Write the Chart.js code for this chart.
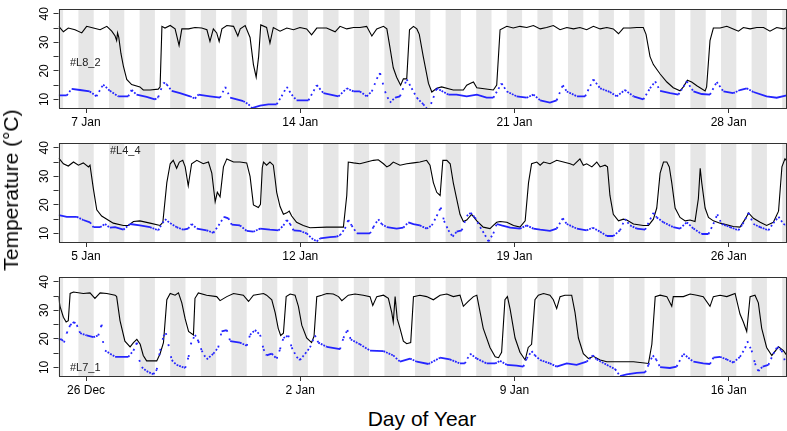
<!DOCTYPE html>
<html lang="en">
<head>
<meta charset="UTF-8" />
<title>Temperature by day of year</title>
<script src="https://cdn.jsdelivr.net/npm/chart.js"></script>
<style>
  body { margin: 0; background: #fff; font-family: "Liberation Sans", Arial, sans-serif; }
  #wrap { position: relative; width: 787px; height: 431px; overflow: hidden; }
  .panel { position: absolute; left: 0; width: 787px; height: 134px; }
  .tag { position: absolute; font-size: 11px; color: #222; white-space: nowrap; }
  #ytitle { position: absolute; left: 11px; top: 190px; transform: translate(-50%, -50%) rotate(-90deg); font-size: 21px; white-space: nowrap; }
  #xtitle { position: absolute; left: 422px; top: 419px; transform: translate(-50%, -50%); font-size: 21px; white-space: nowrap; }
</style>
</head>
<body>
<div id="wrap">
  <canvas id="p1" class="panel" width="787" height="134" style="top:0"></canvas>
  <canvas id="p2" class="panel" width="787" height="134" style="top:134px"></canvas>
  <canvas id="p3" class="panel" width="787" height="134" style="top:268px"></canvas>
  <div class="tag" style="left:70px; top:56px">#L8_2</div>
  <div class="tag" style="left:110px; top:144px">#L4_4</div>
  <div class="tag" style="left:70px; top:361px">#L7_1</div>
  <div id="ytitle">Temperature (°C)</div>
  <div id="xtitle">Day of Year</div>
</div>

<script>
// days are counted from 31 Dec = 0, so 26 Dec = -5 and 7 Jan = 7
const yTicks = [10, 15, 20, 25, 30, 35, 40];

const l82Days = [7, 14, 21, 28];
const l82Labels = ['7 Jan', '14 Jan', '21 Jan', '28 Jan'];
const l44Days = [5, 12, 19, 26];
const l44Labels = ['5 Jan', '12 Jan', '19 Jan', '26 Jan'];
const l71Days = [-5, 2, 9, 16];
const l71Labels = ['26 Dec', '2 Jan', '9 Jan', '16 Jan'];

// [day, temperature] pairs
const l82Nest = [[6.11,35.6],[6.26,33.7],[6.42,35.0],[6.64,34.4],[6.86,33.3],[7.02,35.6],[7.24,35.0],[7.46,34.4],[7.68,35.6],[7.84,33.9],[7.95,32.2],[8.00,30.6],[8.03,33.3],[8.07,31.7],[8.14,26.1],[8.22,21.7],[8.33,17.0],[8.49,15.2],[8.76,14.4],[8.87,13.3],[9.09,13.3],[9.36,13.6],[9.42,14.4],[9.48,35.6],[9.58,35.0],[9.75,35.9],[9.91,34.7],[10.04,28.9],[10.13,34.7],[10.35,34.7],[10.56,35.2],[10.78,35.0],[10.95,34.4],[11.05,30.3],[11.16,34.7],[11.27,33.3],[11.35,30.3],[11.44,34.7],[11.60,35.9],[11.82,35.6],[11.96,32.2],[12.04,34.7],[12.20,35.9],[12.36,31.7],[12.47,22.2],[12.56,17.8],[12.64,25.0],[12.71,36.1],[12.90,35.2],[13.01,29.7],[13.12,35.2],[13.34,33.9],[13.56,35.0],[13.78,34.4],[13.99,35.2],[14.21,34.7],[14.37,32.6],[14.54,35.0],[14.86,35.0],[15.14,33.7],[15.30,35.6],[15.52,34.7],[15.74,35.2],[15.95,35.2],[16.17,35.6],[16.34,32.2],[16.50,34.7],[16.72,35.6],[16.83,34.7],[16.93,28.3],[17.04,21.1],[17.15,17.8],[17.28,15.0],[17.37,17.2],[17.48,17.2],[17.57,34.4],[17.70,35.6],[17.81,34.7],[17.89,32.8],[18.02,25.0],[18.19,15.6],[18.30,12.6],[18.46,13.9],[18.62,14.4],[19.00,13.3],[19.33,13.3],[19.44,15.0],[19.55,15.6],[19.66,16.1],[19.77,14.1],[20.31,13.3],[20.42,15.0],[20.53,34.4],[20.75,35.6],[20.96,35.0],[21.18,35.6],[21.40,35.2],[21.62,35.9],[21.84,34.7],[22.05,35.2],[22.27,35.9],[22.49,34.4],[22.71,35.2],[22.93,34.7],[23.14,35.2],[23.36,34.4],[23.58,35.6],[23.80,34.7],[24.02,35.2],[24.23,34.7],[24.40,33.0],[24.56,35.0],[24.78,35.0],[25.00,35.2],[25.21,35.2],[25.30,32.8],[25.43,25.0],[25.54,22.2],[25.76,18.9],[25.98,16.1],[26.19,14.1],[26.41,13.0],[26.52,14.4],[26.65,16.7],[26.79,16.1],[26.96,14.8],[27.23,13.0],[27.28,14.4],[27.39,30.6],[27.50,35.0],[27.72,35.0],[27.94,35.6],[28.15,34.7],[28.32,33.9],[28.48,35.2],[28.70,34.7],[28.92,35.2],[29.14,35.2],[29.35,33.9],[29.57,35.2],[29.79,34.7],[29.90,35.2]];
const l82Air = [[6.11,11.4],[6.37,11.4],[6.53,13.7],[6.80,13.3],[7.12,12.8],[7.34,11.1],[7.56,15.2],[7.78,13.0],[8.05,11.1],[8.38,11.1],[8.49,13.3],[8.65,11.7],[8.98,10.9],[9.25,10.0],[9.36,10.8],[9.53,15.9],[9.64,15.2],[9.80,13.0],[10.07,12.2],[10.40,11.1],[10.56,10.3],[10.67,11.7],[11.05,11.1],[11.38,10.6],[11.55,14.4],[11.71,10.6],[12.14,9.4],[12.31,8.3],[12.42,7.0],[12.69,7.8],[12.96,8.3],[13.23,8.3],[13.39,11.1],[13.56,14.4],[13.72,11.7],[13.88,9.7],[14.27,9.7],[14.54,15.0],[14.76,12.2],[15.25,11.1],[15.52,13.9],[15.74,12.8],[15.95,12.8],[16.17,11.1],[16.34,12.8],[16.50,17.2],[16.61,19.2],[16.77,12.8],[16.93,8.9],[17.10,10.6],[17.26,11.1],[17.48,17.0],[17.64,13.9],[17.81,10.6],[18.02,8.3],[18.19,6.1],[18.35,10.6],[18.46,13.9],[18.62,13.0],[18.84,11.7],[19.11,11.7],[19.44,11.1],[19.77,11.7],[20.09,10.6],[20.31,10.6],[20.58,15.6],[20.75,12.8],[21.07,11.1],[21.40,10.6],[21.62,11.7],[21.84,9.7],[22.16,8.9],[22.38,9.7],[22.58,15.0],[22.71,12.8],[23.04,11.1],[23.31,11.1],[23.58,17.0],[23.80,13.9],[24.12,12.6],[24.34,11.1],[24.61,13.3],[24.89,11.1],[25.21,10.0],[25.43,13.9],[25.60,16.3],[25.76,13.0],[26.09,12.2],[26.36,11.7],[26.63,16.3],[26.85,12.8],[27.12,11.9],[27.39,11.7],[27.61,16.1],[27.83,12.8],[28.15,12.2],[28.37,13.3],[28.59,13.9],[28.81,12.6],[29.24,11.1],[29.57,10.6],[29.90,11.4]];

const l44Nest = [[4.11,36.4],[4.26,34.4],[4.42,33.6],[4.59,35.0],[4.75,33.9],[4.91,34.7],[5.08,33.3],[5.13,33.9],[5.24,25.6],[5.35,18.3],[5.51,16.1],[5.68,15.0],[5.89,13.6],[6.22,12.8],[6.38,12.8],[6.55,14.2],[6.76,14.4],[7.09,13.6],[7.42,12.8],[7.51,13.9],[7.64,27.8],[7.75,34.4],[7.85,35.6],[7.96,32.8],[8.05,35.0],[8.16,35.6],[8.24,33.3],[8.34,26.7],[8.45,34.4],[8.62,35.6],[8.83,34.4],[9.00,35.0],[9.11,31.1],[9.22,21.1],[9.29,24.4],[9.38,22.8],[9.49,33.3],[9.60,36.1],[9.82,35.0],[10.03,35.0],[10.25,34.7],[10.36,30.0],[10.47,20.0],[10.63,19.1],[10.70,20.2],[10.76,33.0],[10.80,35.0],[10.90,33.9],[11.01,35.0],[11.12,33.9],[11.18,28.9],[11.23,24.4],[11.34,19.4],[11.45,16.7],[11.56,17.2],[11.64,17.8],[11.72,16.1],[11.88,13.9],[12.10,12.8],[12.32,12.0],[12.86,12.2],[13.41,12.2],[13.52,23.3],[13.57,35.0],[13.74,34.7],[13.95,34.4],[14.17,35.0],[14.39,35.6],[14.55,35.8],[14.72,34.4],[14.83,33.3],[14.93,33.9],[15.04,35.0],[15.26,33.9],[15.48,34.4],[15.70,34.7],[15.91,35.0],[16.13,35.6],[16.24,33.9],[16.35,27.8],[16.46,24.4],[16.57,23.3],[16.66,35.6],[16.79,35.6],[16.90,34.4],[17.00,27.8],[17.11,22.2],[17.22,16.7],[17.33,14.2],[17.44,14.7],[17.60,16.7],[17.77,14.4],[17.98,12.2],[18.20,11.7],[18.31,12.8],[18.42,13.9],[18.53,14.2],[18.75,13.9],[18.97,12.8],[19.18,12.2],[19.35,14.4],[19.46,27.8],[19.56,34.4],[19.73,35.0],[19.84,33.9],[19.95,35.0],[20.16,34.4],[20.38,35.6],[20.60,35.0],[20.82,34.4],[20.93,33.9],[21.14,36.1],[21.25,33.9],[21.36,34.4],[21.53,33.3],[21.69,35.0],[21.80,33.3],[21.96,33.9],[22.04,33.3],[22.12,23.3],[22.23,16.7],[22.40,14.4],[22.56,15.0],[22.67,14.7],[22.89,13.3],[23.21,12.8],[23.38,12.8],[23.54,15.0],[23.65,18.9],[23.76,31.1],[23.87,35.0],[23.98,35.0],[24.06,33.3],[24.14,27.8],[24.25,18.9],[24.41,15.6],[24.58,14.4],[24.74,14.7],[24.90,14.2],[25.01,22.2],[25.07,32.8],[25.12,27.8],[25.23,18.9],[25.34,15.6],[25.50,14.4],[25.72,13.6],[25.94,13.0],[26.15,12.4],[26.37,12.2],[26.54,15.0],[26.65,17.2],[26.81,15.3],[27.03,13.9],[27.24,12.8],[27.46,13.9],[27.63,17.8],[27.74,33.3],[27.84,36.1],[27.89,35.5]];
const l44Air = [[4.11,16.4],[4.37,15.8],[4.70,15.8],[4.91,14.7],[5.13,13.9],[5.24,12.2],[5.46,12.2],[5.62,13.3],[5.78,12.0],[5.95,12.2],[6.22,11.3],[6.44,13.3],[6.76,12.8],[7.09,12.2],[7.36,11.1],[7.42,12.2],[7.58,15.0],[7.75,13.6],[7.96,12.2],[8.18,11.3],[8.34,11.7],[8.45,13.3],[8.62,11.7],[8.94,11.1],[9.16,10.2],[9.33,12.8],[9.51,15.8],[9.65,15.3],[9.76,13.1],[10.03,12.8],[10.25,10.9],[10.47,10.6],[10.69,11.7],[11.01,11.3],[11.29,11.1],[11.45,12.8],[11.56,14.7],[11.67,13.3],[11.78,11.1],[11.99,10.9],[12.21,10.0],[12.37,8.3],[12.54,7.2],[12.65,8.3],[12.97,8.7],[13.19,8.9],[13.30,9.4],[13.46,11.7],[13.57,14.7],[13.68,12.8],[13.85,10.0],[14.28,10.0],[14.39,12.2],[14.55,15.0],[14.66,13.3],[14.83,12.2],[15.15,11.7],[15.37,12.0],[15.53,13.9],[15.70,13.3],[15.91,12.8],[16.13,11.7],[16.30,12.8],[16.46,16.1],[16.59,19.1],[16.70,14.4],[16.84,11.1],[16.98,8.9],[17.11,10.6],[17.28,11.1],[17.44,16.1],[17.57,17.2],[17.71,15.6],[17.88,12.2],[18.04,9.4],[18.15,7.2],[18.31,10.0],[18.42,13.3],[18.58,12.8],[18.86,12.0],[19.18,11.7],[19.40,12.8],[19.62,11.7],[19.84,11.3],[20.16,10.9],[20.38,11.7],[20.58,15.3],[20.71,13.3],[21.04,11.7],[21.36,11.1],[21.56,12.0],[21.80,10.6],[22.02,9.1],[22.23,9.1],[22.45,11.1],[22.61,15.0],[22.78,12.8],[23.00,11.7],[23.27,11.3],[23.54,17.2],[23.65,15.6],[23.87,13.9],[24.19,12.2],[24.41,11.7],[24.63,13.9],[24.85,11.7],[25.12,9.8],[25.34,9.8],[25.50,13.3],[25.63,16.7],[25.77,13.3],[26.05,12.2],[26.32,11.1],[26.46,13.3],[26.65,17.2],[26.81,13.3],[27.03,12.2],[27.30,11.1],[27.46,13.6],[27.63,15.8],[27.79,13.3],[27.89,12.8]];

const l71Nest = [[-5.90,34.8],[-5.85,31.4],[-5.74,27.6],[-5.65,25.9],[-5.58,26.4],[-5.52,35.9],[-5.41,36.4],[-5.09,35.9],[-4.87,36.1],[-4.71,34.2],[-4.54,36.1],[-4.32,35.9],[-4.05,35.3],[-4.00,34.8],[-3.89,26.4],[-3.73,19.2],[-3.56,17.2],[-3.45,18.7],[-3.34,19.8],[-3.23,18.1],[-3.13,14.2],[-3.02,12.3],[-2.69,12.3],[-2.58,14.8],[-2.47,18.7],[-2.36,33.7],[-2.25,35.9],[-2.09,35.3],[-1.98,36.1],[-1.87,32.6],[-1.76,27.0],[-1.65,22.6],[-1.49,21.4],[-1.44,34.2],[-1.33,36.1],[-1.06,35.3],[-0.73,34.8],[-0.62,33.4],[-0.40,34.8],[-0.18,35.9],[0.14,35.3],[0.31,33.1],[0.47,35.3],[0.80,35.9],[0.90,35.3],[1.07,33.7],[1.18,29.2],[1.28,23.7],[1.36,21.2],[1.45,22.0],[1.54,34.8],[1.67,35.7],[1.83,35.3],[1.94,31.4],[2.05,24.8],[2.21,20.3],[2.37,18.7],[2.45,20.9],[2.54,34.8],[2.70,35.3],[2.87,35.9],[3.08,35.7],[3.25,34.8],[3.36,33.4],[3.57,35.3],[3.79,35.7],[4.06,35.3],[4.28,34.8],[4.37,31.7],[4.50,34.8],[4.72,35.3],[4.88,34.2],[4.99,29.2],[5.04,25.9],[5.10,34.8],[5.17,27.0],[5.26,23.7],[5.37,19.2],[5.48,18.3],[5.61,18.7],[5.70,34.8],[5.91,35.3],[6.13,34.8],[6.35,33.7],[6.57,35.3],[6.79,35.7],[7.00,34.8],[7.22,35.3],[7.33,31.4],[7.49,33.1],[7.66,34.8],[7.77,35.3],[7.88,29.2],[7.98,23.7],[8.20,17.0],[8.37,13.7],[8.48,13.4],[8.58,15.3],[8.69,33.7],[8.77,34.8],[8.86,30.3],[9.02,20.3],[9.18,15.3],[9.35,12.6],[9.45,17.0],[9.56,18.1],[9.67,33.7],[9.78,35.3],[9.95,35.9],[10.16,35.3],[10.27,33.7],[10.38,30.6],[10.49,34.8],[10.65,35.3],[10.87,35.3],[10.98,29.2],[11.09,20.3],[11.25,14.8],[11.42,13.1],[11.58,13.9],[11.80,12.6],[12.02,12.0],[12.45,12.0],[12.89,12.0],[13.38,11.4],[13.49,18.1],[13.60,34.8],[13.76,35.3],[13.98,34.8],[14.14,31.4],[14.19,34.8],[14.52,34.8],[14.74,35.7],[14.96,35.3],[15.17,34.8],[15.39,31.4],[15.50,34.8],[15.72,35.3],[15.94,34.8],[16.21,35.9],[16.37,28.7],[16.48,25.9],[16.59,22.6],[16.70,34.8],[16.86,35.3],[16.97,32.6],[17.08,23.7],[17.24,17.0],[17.41,14.2],[17.63,17.2],[17.79,15.9],[17.90,14.2]];
const l71Air = [[-5.90,19.8],[-5.79,19.8],[-5.72,18.7],[-5.63,22.0],[-5.52,24.8],[-5.39,25.9],[-5.30,24.8],[-5.19,22.0],[-4.98,21.2],[-4.76,20.6],[-4.60,21.2],[-4.49,25.0],[-4.45,19.2],[-4.38,15.9],[-4.21,14.8],[-4.05,13.7],[-3.62,13.7],[-3.45,15.9],[-3.34,18.7],[-3.26,12.6],[-3.18,10.1],[-3.02,8.7],[-2.80,7.6],[-2.69,9.2],[-2.58,15.9],[-2.47,20.9],[-2.39,22.0],[-2.31,18.1],[-2.20,12.6],[-2.04,10.9],[-1.76,9.8],[-1.65,13.7],[-1.58,18.1],[-1.44,21.4],[-1.33,19.2],[-1.22,15.9],[-1.06,12.8],[-0.84,14.8],[-0.68,17.0],[-0.57,22.6],[-0.40,23.1],[-0.29,19.2],[0.03,18.7],[0.25,17.6],[0.36,21.4],[0.52,23.1],[0.69,21.4],[0.80,16.4],[0.90,14.2],[1.07,14.8],[1.23,13.1],[1.34,16.4],[1.45,20.3],[1.61,21.2],[1.72,17.0],[1.88,13.7],[1.99,12.6],[2.16,14.8],[2.32,17.0],[2.48,21.2],[2.59,18.7],[2.87,17.2],[3.30,16.4],[3.41,20.3],[3.54,23.1],[3.65,19.8],[3.95,18.1],[4.28,15.9],[4.72,15.7],[5.04,14.2],[5.26,12.0],[5.59,13.1],[5.81,12.0],[6.19,11.2],[6.57,13.4],[6.89,12.8],[7.22,11.4],[7.38,11.4],[7.55,14.8],[7.77,13.1],[8.09,11.4],[8.37,11.4],[8.53,12.3],[8.75,10.9],[9.07,10.6],[9.29,10.3],[9.40,13.1],[9.56,15.7],[9.67,14.2],[9.84,12.6],[10.16,11.4],[10.38,10.3],[10.71,11.4],[11.03,10.9],[11.36,12.0],[11.56,14.2],[11.69,12.8],[12.02,10.9],[12.29,9.4],[12.45,7.0],[12.67,7.6],[13.00,8.1],[13.27,8.3],[13.38,10.9],[13.52,14.2],[13.63,12.8],[13.76,10.1],[14.08,9.8],[14.30,10.3],[14.52,14.8],[14.68,13.4],[14.85,12.0],[15.17,11.4],[15.39,11.2],[15.50,13.4],[15.72,13.7],[15.94,12.8],[16.15,11.7],[16.37,13.7],[16.54,16.8],[16.61,19.2],[16.75,15.9],[16.86,11.4],[16.97,8.7],[17.11,10.3],[17.30,10.9],[17.46,14.8],[17.59,17.2],[17.73,15.9],[17.90,10.3]];

const NIGHT_FROM = -0.25;   // 18:00 the evening before
const NIGHT_LEN = 0.5;      // until 06:00
const SAMPLE_DAYS = 2 / 24; // logger interval of the air series
const DOT = 1.8;

const panels = [
  { id: 'p1', min: 6.10, max: 29.89, days: l82Days, labels: l82Labels, nest: l82Nest, air: l82Air },
  { id: 'p2', min: 4.10, max: 27.89, days: l44Days, labels: l44Labels, nest: l44Nest, air: l44Air },
  { id: 'p3', min: -5.90, max: 17.89, days: l71Days, labels: l71Labels, nest: l71Nest, air: l71Air }
];

// grey night shading behind the data
const nightBands = {
  id: 'nightBands',
  beforeDatasetsDraw(chart) {
    const { ctx, chartArea: a, scales: { x } } = chart;
    ctx.save();
    ctx.beginPath();
    ctx.rect(a.left, a.top, a.width, a.height);
    ctx.clip();
    ctx.fillStyle = '#e6e6e6';
    for (let d = Math.floor(x.min) - 1; d <= x.max + 1; d++) {
      const x0 = x.getPixelForValue(d + NIGHT_FROM);
      const x1 = x.getPixelForValue(d + NIGHT_FROM + NIGHT_LEN);
      ctx.fillRect(x0, a.top, x1 - x0, a.height);
    }
    ctx.restore();
  }
};

const plotBox = {
  id: 'plotBox',
  afterDraw(chart) {
    const { ctx, chartArea: a } = chart;
    ctx.save();
    ctx.strokeStyle = '#333';
    ctx.lineWidth = 1;
    ctx.strokeRect(Math.round(a.left) + 0.5, Math.round(a.top) + 0.5,
      Math.round(a.width) - 1, Math.round(a.height));
    ctx.restore();
  }
};

// points logged at a fixed interval: steep stretches show separate dots
function dotDash(ctx) {
  const xs = ctx.chart.scales.x;
  const stepX = xs.getPixelForValue(SAMPLE_DAYS) - xs.getPixelForValue(0);
  const dx = Math.max(ctx.p1.x - ctx.p0.x, 0.01);
  const len = Math.hypot(dx, ctx.p1.y - ctx.p0.y);
  const gap = len * stepX / dx - DOT;
  return gap < 0.9 ? [] : [DOT, gap];
}

panels.forEach(p => {
  new Chart(document.getElementById(p.id), {
    type: 'line',
    data: {
      datasets: [
        { data: p.air, borderColor: '#2424ff', borderWidth: DOT, pointRadius: 0, clip: 0,
          segment: { borderDash: dotDash } },
        { data: p.nest, borderColor: '#000', borderWidth: 1.1, pointRadius: 0, clip: 0 }
      ]
    },
    options: {
      responsive: false,
      animation: false,
      devicePixelRatio: 1,
      events: [],
      layout: { padding: { top: 4, right: 0.5, left: 0, bottom: 0 } },
      plugins: { legend: { display: false }, tooltip: { enabled: false } },
      scales: {
        x: {
          type: 'linear', min: p.min, max: p.max,
          afterBuildTicks: s => { s.ticks = p.days.map(v => ({ value: v })); },
          afterFit: s => { s.height = 26; },
          ticks: { autoSkip: false, maxRotation: 0, padding: 2, color: '#000',
            font: { family: 'Liberation Sans', size: 12 },
            callback: (v, i) => p.labels[i] },
          grid: { drawOnChartArea: false, tickLength: 5, tickColor: '#333' },
          border: { display: false }
        },
        y: {
          type: 'linear', min: 7, max: 41.6,
          afterBuildTicks: s => { s.ticks = yTicks.map(v => ({ value: v })); },
          afterFit: s => { s.width = 58.5; },
          ticks: { minRotation: 90, maxRotation: 90, crossAlign: 'center', padding: 2, color: '#000',
            font: { family: 'Liberation Sans', size: 12 },
            callback: v => (v % 10 === 0 ? String(v) : '') },
          grid: { drawOnChartArea: false, tickLength: 5, tickColor: '#333' },
          border: { display: false }
        }
      }
    },
    plugins: [nightBands, plotBox]
  });
});
</script>
</body>
</html>
